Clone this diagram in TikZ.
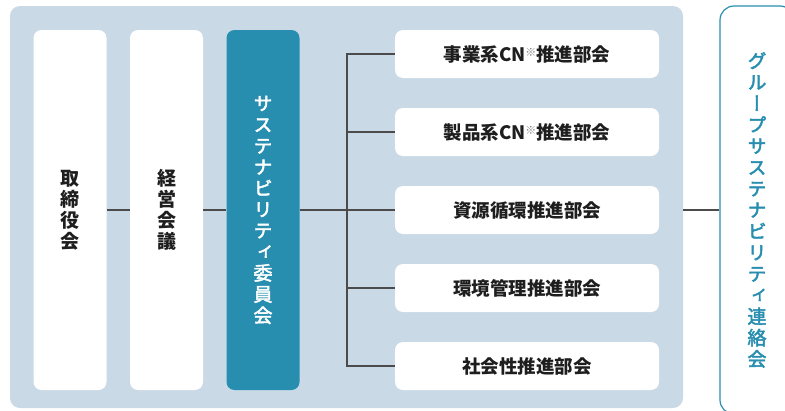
\documentclass[tikz,border=0pt]{standalone}
\usepackage{fontspec}
\newfontfamily\jp{Noto Sans CJK JP}
\newfontfamily\jpv[RawFeature=+vert]{Noto Sans CJK JP}
\newfontfamily\jpvm[RawFeature=+vert, FakeBold=2.5]{Noto Sans CJK JP}
\definecolor{panelc}{RGB}{201,217,230}
\definecolor{comteal}{RGB}{40,142,176}
\definecolor{linec}{RGB}{75,75,75}
\definecolor{txtc}{RGB}{30,30,30}
\definecolor{notec}{RGB}{130,130,130}
\newcommand\cnnote{{\fontsize{11}{11}\selectfont\color{notec}\raisebox{5pt}{※}}}
\begin{document}
\begin{tikzpicture}[x=1pt,y=-1pt,
  tallbox/.style={rounded corners=8pt, minimum width=73pt, minimum height=360pt,
    inner sep=0pt, align=center, fill=white, text=txtc,
    font=\jpv\bfseries\fontsize{19}{21}\selectfont},
  wbox/.style={rounded corners=8pt, minimum width=264pt, minimum height=48pt,
    inner sep=0pt, fill=white, text=txtc, font=\jp\bfseries\fontsize{18.5}{20}\selectfont},
  conn/.style={draw=linec, line width=1.2pt}]
\useasboundingbox (0,0) rectangle (785,410);
\clip (0,0) rectangle (785,410);
\fill[white] (0,0) rectangle (785,410);
% panel
\node[fill=panelc, rounded corners=10pt, minimum width=673pt, minimum height=402pt, inner sep=0pt] (panel) at (346.5,207) {};
% group box
\node[draw=comteal, line width=1.2pt, fill=white, rounded corners=14pt, minimum width=74pt, minimum height=408pt,
  inner sep=0pt, align=center, text=comteal, font=\jpvm\fontsize{19}{21.3}\selectfont] (grp) at (757,210)
  {グ\\ル\\ー\\プ\\サ\\ス\\テ\\ナ\\ビ\\リ\\テ\\ィ\\連\\絡\\会};
% tall boxes
\node[tallbox] (b1) at (70,210) {取\\締\\役\\会};
\node[tallbox] (b2) at (166.5,210) {経\\営\\会\\議};
\node[tallbox, fill=comteal, text=white, font=\jpvm\fontsize{19}{21.2}\selectfont] (b3) at (263,210)
  {サ\\ス\\テ\\ナ\\ビ\\リ\\テ\\ィ\\委\\員\\会};
% right boxes
\node[wbox] (j1) at (527,54) {事業系CN\cnnote 推進部会};
\node[wbox] (j2) at (527,132) {製品系CN\cnnote 推進部会};
\node[wbox] (j3) at (527,210) {資源循環推進部会};
\node[wbox] (j4) at (527,288) {環境管理推進部会};
\node[wbox] (j5) at (527,366) {社会性推進部会};
% connectors
\coordinate (sp) at (347,210);
\draw[conn] (b1.east) -- (b2.west);
\draw[conn] (b2.east) -- (b3.west);
\draw[conn] (b3.east) -- (j3.west);
\draw[conn] (sp) |- (j1.west);
\draw[conn] (sp) |- (j2.west);
\draw[conn] (sp) |- (j4.west);
\draw[conn] (sp) |- (j5.west);
\draw[conn] (panel.east |- b1.east) -- (grp.west |- b1.east);
\end{tikzpicture}
\end{document}
